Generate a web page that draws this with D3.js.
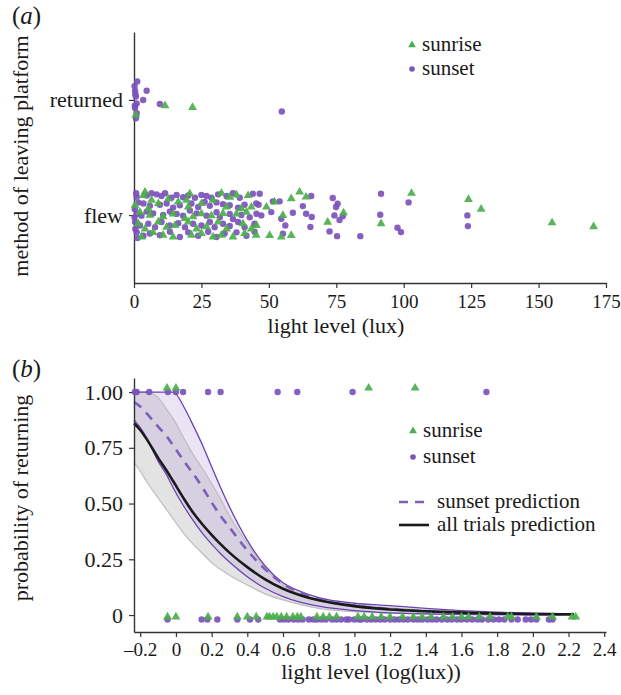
<!DOCTYPE html>
<html>
<head>
<meta charset="utf-8">
<script src="https://cdnjs.cloudflare.com/ajax/libs/d3/7.8.5/d3.min.js"></script>
<style>
  body { margin: 0; background: #fff; }
</style>
</head>
<body>
<div id="chart"></div>
<script>
// ---------- data ----------

// panel (a): [lux, vertical jitter in category units]
var sunsetFlew = [
  [1.0,0.16],[4.7,0.17],[6.5,0.19],[8.4,0.18],[10.2,0.165],[11.5,0.19],[13.9,0.15],[15.8,0.175],[18.2,0.155],[20.1,0.17],
  [22.6,0.15],[25.0,0.175],[26.9,0.165],[28.7,0.15],[31.2,0.18],[34.3,0.165],[36.7,0.19],[39.2,0.15],[44.1,0.185],
  [1.6,0.11],[3.5,0.10],[5.9,0.08],[9.6,0.09],[12.1,0.1],[14.5,0.065],[17.0,0.085],[21.3,0.1],[23.8,0.07],[26.2,0.115],
  [28.1,0.08],[30.6,0.11],[33.0,0.095],[35.5,0.085],[38.6,0.065],[41.0,0.09],[45.3,0.1],
  [1.0,0.01],[2.8,-0.005],[4.7,0.03],[7.1,0.015],[10.8,0.0],[13.3,0.03],[15.8,0.01],[18.2,-0.005],[20.7,0.04],[23.2,0.015],
  [26.9,-0.005],[30.6,0.025],[31.8,-0.02],[35.5,0.01],[36.7,-0.035],[39.8,0.0],[42.9,-0.02],
  [0.4,-0.06],[2.2,-0.09],[5.3,-0.075],[7.8,-0.105],[10.2,-0.06],[13.3,-0.09],[16.4,-0.07],[18.9,-0.105],[21.9,-0.075],
  [25.0,-0.09],[28.1,-0.06],[29.9,-0.105],[33.0,-0.075],[35.5,-0.095],[38.6,-0.06],[41.0,-0.105],[44.7,-0.075],
  [1.0,-0.15],[3.5,-0.18],[5.9,-0.16],[9.6,-0.175],[13.3,-0.145],[17.0,-0.19],[20.1,-0.15],[23.8,-0.18],[27.5,-0.145],
  [30.6,-0.19],[33.6,-0.16],[38.0,-0.15],[41.7,-0.18],[44.7,-0.145],
  [0.3,0.05],[0.5,-0.12],[0.8,0.19],[0.2,-0.02],[1.3,-0.2],
  [46.6,0.185],[46.2,0.09],[45.4,0.011],[47.2,-0.003],[51.5,0.119],[54.0,0.119],[50.9,0.026],[54.6,-0.032],[56.1,-0.09],
  [55.2,-0.162],[58.9,0.02],[62.6,0.078],[63.8,0.011],[65.9,-0.017],[65.4,-0.104],[65.7,0.165],[73.7,0.148],[74.9,0.07],
  [75.5,0.098],[74.3,-0.003],[77.4,-0.011],[76.2,-0.043],[72.5,-0.142],[75.3,-0.183],[83.9,-0.183],[91.6,0.185],[91.3,0.003],
  [101.8,0.11],[97.7,-0.11],[99.0,-0.148],[123.6,-0.003],[123.8,-0.096]
];
var sunriseFlew = [
  [3.5,0.17],[4.1,0.2],[6.5,0.13],[12.7,0.14],[19.5,0.13],[20.7,0.185],[32.4,0.19],[35.5,0.155],[38.0,0.175],[42.3,0.17],
  [0.4,0.085],[5.3,0.055],[9.0,0.1],[16.4,0.115],[20.1,0.07],[25.0,0.1],[29.3,0.13],[34.3,0.07],[39.8,0.055],[43.5,0.07],
  [2.2,0.025],[5.9,0.0],[10.8,-0.015],[14.5,0.01],[18.9,-0.03],[21.9,-0.015],[25.0,0.012],[28.7,-0.005],[33.0,0.015],
  [38.0,0.01],[41.7,0.025],
  [1.6,-0.075],[4.1,-0.12],[9.0,-0.06],[12.1,-0.105],[15.2,-0.09],[20.1,-0.06],[23.2,-0.12],[26.9,-0.1],[31.2,-0.06],
  [34.3,-0.12],[40.4,-0.075],[43.5,-0.12],
  [2.8,-0.19],[7.1,-0.15],[10.8,-0.175],[14.5,-0.19],[21.3,-0.175],[25.0,-0.16],[29.3,-0.19],[32.4,-0.175],[36.7,-0.19],
  [41.0,-0.16],[45.3,-0.175],
  [49.1,0.07],[52.1,0.113],[58.3,0.142],[61.4,0.2],[63.8,0.157],[55.2,-0.003],[54.6,-0.191],[58.3,-0.177],[50.3,-0.177],
  [71.8,-0.061],[77.7,0.02],[91.6,-0.075],[45.4,-0.09],
  [102.9,0.189],[124.0,0.136],[128.7,0.052],[155.0,-0.067],[170.4,-0.101]
];
var sunsetReturned = [
  [1.2,0.16],[0.4,0.08],[4.7,0.08],[0.7,0.03],[3.4,0.0],[1.0,-0.03],[9.6,-0.035],[0.4,-0.07],[1.0,-0.115],[0.7,-0.16],
  [0.2,0.12],[0.5,0.05],[0.3,-0.05],[54.8,-0.1]
];
var sunriseReturned = [[11.5,-0.05],[21.7,-0.065],[0.7,-0.13]];

var methodLabels = ["flew", "returned"];
var luxTicks = [0, 25, 50, 75, 100, 125, 150, 175];

// panel (b): log10(lux) of each trial
var sunsetTop = [-0.23, -0.22, -0.15, -0.045, 0.0, 0.04, 0.18, 0.25, 0.57, 0.68, 0.99, 1.74];
var sunriseTop = [-0.05, 0.0, 1.08, 1.34];
var sunsetBottom = [-0.047, 0.144, 0.176, 0.232, 0.344, 0.415, 0.461, 0.583, 0.605, 0.63, 0.66, 0.685, 0.71, 0.745,
  0.77, 0.79, 0.815, 0.84, 0.875, 0.9, 0.925, 0.955, 0.97, 1.0, 1.025, 1.04, 1.07, 1.095, 1.12, 1.145, 1.17, 1.2, 1.225,
  1.25, 1.275, 1.3, 1.33, 1.355, 1.38, 1.41, 1.435, 1.46, 1.49, 1.52, 1.545, 1.575, 1.6, 1.63, 1.66, 1.69, 1.715, 1.75,
  1.78, 1.81, 1.84, 1.88, 1.915, 1.96, 1.99, 2.02, 2.09, 2.11];
var sunriseBottom = [-0.047, 0.0, 0.18, 0.344, 0.4, 0.45, 0.51, 0.525, 0.545, 0.565, 0.59, 0.62, 0.655, 0.68, 0.7,
  0.79, 0.825, 0.86, 0.9, 1.02, 1.055, 1.1, 1.15, 1.2, 1.27, 1.33, 1.38, 1.43, 1.5, 1.55, 1.6, 1.64, 1.7, 1.76, 1.86,
  1.88, 2.02, 2.11, 2.22, 2.24];

// model predictions (read at these log(lux) values)
var predX   = [-0.235,-0.2,-0.165,-0.1,-0.05,-0.015,0.05,0.1,0.15,0.2,0.25,0.3,0.4,0.5,0.6,0.7,0.8,1.0,1.2,1.4,1.6,1.8,2.0,2.23];
var allMean = [0.86,0.83,0.79,0.705,0.645,0.6,0.515,0.455,0.405,0.36,0.318,0.28,0.215,0.16,0.118,0.088,0.066,0.04,0.025,0.017,0.011,0.007,0.005,0.003];
var allLo   = [0.685,0.645,0.6,0.525,0.47,0.43,0.36,0.315,0.275,0.235,0.205,0.178,0.135,0.095,0.068,0.047,0.03,0.015,0.008,0.004,0.002,0.001,0.0005,0.0002];
var allHi   = [1,1,1,0.975,0.92,0.88,0.785,0.715,0.655,0.59,0.52,0.445,0.32,0.21,0.135,0.095,0.07,0.045,0.032,0.022,0.015,0.01,0.007,0.005];
var sunMean = [0.955,0.935,0.905,0.845,0.8,0.76,0.685,0.63,0.57,0.505,0.445,0.393,0.29,0.205,0.14,0.1,0.07,0.043,0.027,0.017,0.01,0.006,0.004,0.002];
var sunLo   = [0.875,0.84,0.795,0.69,0.625,0.57,0.48,0.42,0.365,0.318,0.275,0.238,0.172,0.12,0.083,0.057,0.04,0.02,0.01,0.005,0.003,0.002,0.001,0.0005];
var sunHi   = [1,1,1,1,1,1,0.925,0.845,0.76,0.665,0.572,0.485,0.335,0.22,0.145,0.105,0.078,0.053,0.042,0.03,0.02,0.013,0.008,0.005];

var logTicks = [-0.2, 0, 0.2, 0.4, 0.6, 0.8, 1.0, 1.2, 1.4, 1.6, 1.8, 2.0, 2.2, 2.4];
var logLabels = ["\u20130.2", "0", "0.2", "0.4", "0.6", "0.8", "1.0", "1.2", "1.4", "1.6", "1.8", "2.0", "2.2", "2.4"];
var probTicks = [0, 0.25, 0.5, 0.75, 1];
var probLabels = ["0", "0.25", "0.50", "0.75", "1.00"];

// ---------- drawing ----------
var green = "#4cae4c", purple = "#7b53bb";
var fs = 22, xFs = 19, legFs = 21;
var FONT = "Liberation Serif";

var svg = d3.select("#chart")
  .append("svg")
    .attr("width", 621)
    .attr("height", 695);

var tri = d3.symbol().type(d3.symbolTriangle).size(34);

function styleAxis(size) {
  return function (g) {
    g.attr("font-family", FONT).attr("font-size", size);
    g.selectAll(".domain").attr("stroke", "#333").attr("stroke-width", 1.4);
    g.selectAll(".tick line").attr("stroke", "#333").attr("stroke-width", 1.2);
    g.selectAll(".tick text").attr("font-family", FONT).attr("font-size", size).attr("fill", "#1a1a1a");
  };
}

function txt(x, y, s, size, anchor) {
  return svg.append("text").attr("x", x).attr("y", y).attr("font-size", size)
    .attr("font-family", FONT).attr("fill", "#1a1a1a")
    .attr("text-anchor", anchor || "start").text(s);
}

// ===== panel (a) =====
var xa = d3.scaleLinear().domain([0, 175]).range([134, 606]);
var ya = d3.scaleLinear().domain([-0.59, 1.59]).range([283, 32]);

svg.append("g")
  .attr("transform", "translate(0," + 283 + ")")
  .call(d3.axisBottom(xa).tickValues(luxTicks).tickSize(5).tickSizeOuter(0).tickPadding(7))
  .call(styleAxis(xFs));

svg.append("g")
  .attr("transform", "translate(134,0)")
  .call(d3.axisLeft(ya).tickValues([0, 1]).tickFormat(function (d) { return methodLabels[d]; })
    .tickSize(5).tickSizeOuter(0).tickPadding(6))
  .call(styleAxis(fs));

var pa = svg.append("g");
pa.selectAll(".sset")
  .data(sunsetFlew.map(function (d) { return [d[0], d[1]]; })
    .concat(sunsetReturned.map(function (d) { return [d[0], 1 + d[1]]; })))
  .enter().append("circle")
    .attr("cx", function (d) { return xa(d[0]); })
    .attr("cy", function (d) { return ya(d[1]); })
    .attr("r", 3.2)
    .style("fill", purple).style("opacity", 0.92);
pa.selectAll(".srise")
  .data(sunriseFlew.map(function (d) { return [d[0], d[1]]; })
    .concat(sunriseReturned.map(function (d) { return [d[0], 1 + d[1]]; })))
  .enter().append("path")
    .attr("d", tri)
    .attr("transform", function (d) { return "translate(" + xa(d[0]) + "," + ya(d[1]) + ")"; })
    .style("fill", green).style("opacity", 0.92);

// legend (a)
svg.append("path").attr("d", d3.symbol().type(d3.symbolTriangle).size(26))
  .attr("transform", "translate(412,45)").style("fill", green);
txt(422, 51, "sunrise", legFs);
svg.append("circle").attr("cx", 412).attr("cy", 69).attr("r", 2.8).style("fill", purple);
txt(422, 75, "sunset", legFs);

// titles (a)
txt(336, 333, "light level (lux)", fs, "middle");
svg.append("text").attr("transform", "translate(28,156) rotate(-90)").attr("text-anchor", "middle")
  .attr("font-size", fs).attr("font-family", FONT).attr("fill", "#1a1a1a").text("method of leaving platform");
var la = txt(12, 24, "", 25);
la.append("tspan").text("(");
la.append("tspan").attr("font-style", "italic").text("a");
la.append("tspan").text(")");

// ===== panel (b) =====
var xb = d3.scaleLinear().domain([-0.235, 2.41]).range([134, 606]);
var yb = d3.scaleLinear().domain([-0.076, 1.063]).range([632, 378]);
var idx = d3.range(predX.length);

function band(lo, hi) {
  return d3.area().curve(d3.curveMonotoneX)
    .x(function (i) { return xb(predX[i]); })
    .y0(function (i) { return yb(lo[i]); })
    .y1(function (i) { return yb(hi[i]); });
}
function line(vals) {
  return d3.line().curve(d3.curveMonotoneX)
    .x(function (i) { return xb(predX[i]); })
    .y(function (i) { return yb(vals[i]); });
}

var pb = svg.append("g");
pb.append("path").datum(idx).attr("d", band(allLo, allHi))
  .style("fill", "#bdbdbd").style("fill-opacity", 0.42);
pb.append("path").datum(idx).attr("d", band(sunLo, sunHi))
  .style("fill", "#b39ddb").style("fill-opacity", 0.28);
[allLo, allHi].forEach(function (v) {
  pb.append("path").datum(idx).attr("d", line(v))
    .style("fill", "none").style("stroke", "#bdbdbd").style("stroke-width", 1.2);
});
[sunLo, sunHi].forEach(function (v) {
  pb.append("path").datum(idx).attr("d", line(v))
    .style("fill", "none").style("stroke", "#6a43b3").style("stroke-width", 1.3);
});
pb.append("path").datum(idx).attr("d", line(sunMean))
  .style("fill", "none").style("stroke", "#7e5fb8").style("stroke-width", 2.6)
  .style("stroke-dasharray", "9,7");
pb.append("path").datum(idx).attr("d", line(allMean))
  .style("fill", "none").style("stroke", "#1a1a1a").style("stroke-width", 2.6);

svg.append("g")
  .attr("transform", "translate(0," + 632 + ")")
  .call(d3.axisBottom(xb).tickValues(logTicks).tickFormat(function (d, i) { return logLabels[i]; })
    .tickSize(5).tickSizeOuter(0).tickPadding(6))
  .call(styleAxis(xFs));

svg.append("g")
  .attr("transform", "translate(134,0)")
  .call(d3.axisLeft(yb).tickValues(probTicks).tickFormat(function (d, i) { return probLabels[i]; })
    .tickSize(5).tickSizeOuter(0).tickPadding(6))
  .call(styleAxis(fs));

var pts = svg.append("g");
pts.selectAll(".bs1").data(sunsetTop.map(function (v) { return [v, 1.0]; })
    .concat(sunsetBottom.map(function (v) { return [v, -0.02]; })))
  .enter().append("circle")
    .attr("cx", function (d) { return xb(d[0]); })
    .attr("cy", function (d) { return yb(d[1]); })
    .attr("r", 3.2)
    .style("fill", purple).style("opacity", 0.92);
pts.selectAll(".br1").data(sunriseTop.map(function (v) { return [v, 1.018]; })
    .concat(sunriseBottom.map(function (v) { return [v, -0.008]; })))
  .enter().append("path")
    .attr("d", tri)
    .attr("transform", function (d) { return "translate(" + xb(d[0]) + "," + yb(d[1]) + ")"; })
    .style("fill", green).style("opacity", 0.92);

// legend (b)
svg.append("path").attr("d", d3.symbol().type(d3.symbolTriangle).size(26))
  .attr("transform", "translate(413,431)").style("fill", green);
txt(423, 437, "sunrise", legFs);
svg.append("circle").attr("cx", 413).attr("cy", 457).attr("r", 2.8).style("fill", purple);
txt(423, 463, "sunset", legFs);
svg.append("line").attr("x1", 399).attr("x2", 429).attr("y1", 502).attr("y2", 502)
  .style("stroke", "#7e5fb8").style("stroke-width", 2.6).style("stroke-dasharray", "9,7");
txt(437, 508, "sunset prediction", legFs);
svg.append("line").attr("x1", 399).attr("x2", 429).attr("y1", 525).attr("y2", 525)
  .style("stroke", "#1a1a1a").style("stroke-width", 2.6);
txt(437, 531, "all trials prediction", legFs);

// titles (b)
txt(371, 679, "light level (log(lux))", fs, "middle");
svg.append("text").attr("transform", "translate(28,498) rotate(-90)").attr("text-anchor", "middle")
  .attr("font-size", fs).attr("font-family", FONT).attr("fill", "#1a1a1a").text("probability of returning");
var lb = txt(12, 377, "", 25);
lb.append("tspan").text("(");
lb.append("tspan").attr("font-style", "italic").text("b");
lb.append("tspan").text(")");
</script>
</body>
</html>
